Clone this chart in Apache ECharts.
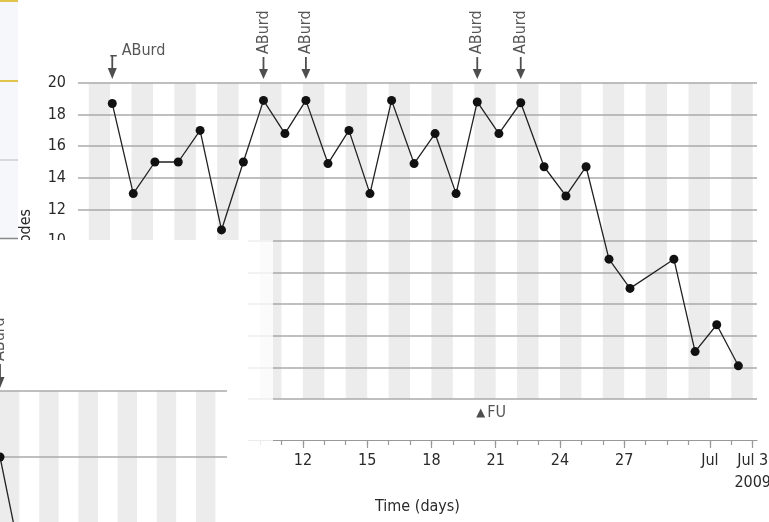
<!DOCTYPE html>
<html><head><meta charset="utf-8">
<script src="https://cdn.jsdelivr.net/npm/echarts@6/dist/echarts.min.js"></script>
<style>html,body{margin:0;padding:0;background:#fff}#c{width:769px;height:522px}</style>
</head><body><div id="c"></div>
<script>
// ---- data ----
const days = [3.10,4.08,5.09,6.18,7.20,8.20,9.22,10.16,11.16,12.14,13.17,14.15,15.13,16.14,17.19,18.17,19.15,20.14,21.15,22.17,23.26,24.28,25.22,26.29,27.27,29.32,30.31,31.32,32.33];
const episodes = [18.7,13,15,15,17,10.7,15,18.9,16.8,18.9,14.9,17,13,18.9,14.9,16.8,13,18.8,16.8,18.75,14.7,12.85,14.7,8.85,7.0,8.85,3.0,4.7,2.1];
const aburdDays = [3.10,10.16,12.14,20.14,22.17];
const aburdText = 'ABurd';
const fuDays = [20.3];
const fuText = 'FU';
const labelDays = [12,15,18,21,24,27,31,33];
const labelTexts = ['12','15','18','21','24','27','Jul','Jul 3\n2009'];
const minorTickDays = [2,3,4,5,6,7,8,9,10,11,12,13,14,15,16,17,18,19,20,21,22,23,24,25,26,27,28,29,30,31,32,33];
const yName = 'Episodes';
const xName = 'Time (days)';
const fragmentPointCount = 2; // the overlapping fragment only shows the first drop

const FONT = '"DejaVu Sans Condensed","Liberation Sans Narrow",sans-serif';
const TXT = '#2a2a2a';
const arrowPath = 'path://M3.6,0 L5.4,0 L5.4,12 L9,12 L4.5,22 L0,12 L3.6,12 Z';
const tArrowPath = 'path://M2.5,0 L9,0 L9,1.6 L5.4,1.6 L5.4,13 L9,13 L4.5,24 L0,13 L3.6,13 L3.6,1.6 L2.5,1.6 Z';

const xMin = 1.5, xMax = 33.2;
const stripes = [];
for (let d = 2; d < xMax; d += 2) stripes.push([{xAxis: d}, {xAxis: Math.min(d + 1, xMax)}]);

const pts = days.map((d, i) => [d, episodes[i]]);
const rotLabel = {show: true, formatter: aburdText, rotate: 90, position: [4.5, -3], align: 'left', verticalAlign: 'middle',
  color: TXT, fontSize: 16, fontFamily: FONT};
const aburdData = aburdDays.map((d, i) => i === 0 ? {
  value: [d, 20], symbol: tArrowPath, symbolSize: [9, 24], symbolOffset: [0, -16],
  label: {show: true, formatter: aburdText, position: [14, -4], align: 'left', verticalAlign: 'middle', color: TXT, fontSize: 16, fontFamily: FONT}
} : {value: [d, 20], label: rotLabel});

const chart = echarts.init(document.getElementById('c'), null, {renderer: 'canvas'});
chart.setOption({
  animation: false,
  backgroundColor: '#fff',
  grid: [
    {left: 78, right: 12, top: 83, bottom: 123, outerBoundsMode: 'none', containLabel: false},
    {left: 0, top: 391, width: 227, height: 330, outerBoundsMode: 'none', containLabel: false}
  ],
  xAxis: [
    {gridIndex: 0, type: 'value', min: xMin, max: xMax, position: 'bottom', offset: 41, z: 2,
     axisLine: {show: true, onZero: false, lineStyle: {color: '#999', width: 1.2}},
     axisTick: {show: true, customValues: labelDays, length: 8, lineStyle: {color: '#999', width: 1.2}},
     axisLabel: {customValues: labelDays, formatter: v => labelTexts[labelDays.indexOf(v)], color: TXT, fontSize: 16, fontFamily: FONT, margin: 10, lineHeight: 22},
     splitLine: {show: false},
     name: xName, nameLocation: 'middle', nameGap: 58, nameTextStyle: {color: TXT, fontSize: 16, fontFamily: FONT}},
    {gridIndex: 0, type: 'value', min: xMin, max: xMax, position: 'bottom', offset: 41, z: 2,
     axisLine: {show: false, onZero: false},
     axisTick: {show: true, customValues: minorTickDays, length: 5, lineStyle: {color: '#999', width: 1.2}},
     axisLabel: {show: false}, splitLine: {show: false}},
    {gridIndex: 1, type: 'value', min: 3.1, max: 14.68, interval: 1, z: 20,
     axisLine: {show: false, onZero: false}, axisTick: {show: false}, axisLabel: {show: false}, splitLine: {show: false},
     splitArea: {show: true, areaStyle: {color: ['#ececec', '#ffffff']}}}
  ],
  yAxis: [
    {gridIndex: 0, type: 'value', min: 0, max: 20, interval: 2, z: 2,
     axisLine: {show: false, onZero: false}, axisTick: {show: false},
     axisLabel: {color: TXT, fontSize: 16, fontFamily: FONT, margin: 12},
     splitLine: {lineStyle: {color: '#aaa', width: 1.5}},
     name: yName, nameLocation: 'middle', nameGap: 44, nameTextStyle: {color: TXT, fontSize: 16, fontFamily: FONT}},
    {gridIndex: 1, type: 'value', min: 2.7, max: 22.7, interval: 4, z: 21,
     axisLine: {show: false, onZero: false}, axisTick: {show: false}, axisLabel: {show: false},
     splitLine: {lineStyle: {color: '#aaa', width: 1.5}}}
  ],
  series: [
    {type: 'line', xAxisIndex: 0, yAxisIndex: 0, data: pts, silent: true, showSymbol: false, lineStyle: {opacity: 0}, z: 1,
     markArea: {silent: true, itemStyle: {color: '#ececec'}, data: stripes}},
    {type: 'line', xAxisIndex: 0, yAxisIndex: 0, data: pts, symbol: 'circle', symbolSize: 9, z: 3,
     lineStyle: {color: '#222', width: 1.3}, itemStyle: {color: '#111'}},
    {type: 'scatter', xAxisIndex: 0, yAxisIndex: 0, data: aburdData, clip: false, z: 4,
     symbol: arrowPath, symbolSize: [9, 22], symbolOffset: [0, -15], itemStyle: {color: '#222'}},
    {type: 'scatter', xAxisIndex: 0, yAxisIndex: 0, data: fuDays.map(d => [d, 0]), clip: false, z: 4,
     symbol: 'triangle', symbolSize: [9, 9], symbolOffset: [0, 14], itemStyle: {color: '#222'},
     label: {show: true, formatter: fuText, position: 'right', distance: 2, color: TXT, fontSize: 16, fontFamily: FONT}},
    // overlapping fragment (partial copy of the same chart)
    {type: 'line', xAxisIndex: 2, yAxisIndex: 1, data: pts.slice(0, fragmentPointCount), symbol: 'circle', symbolSize: 9, z: 22,
     lineStyle: {color: '#222', width: 1.3}, itemStyle: {color: '#111'}},
    {type: 'scatter', xAxisIndex: 2, yAxisIndex: 1, data: [[aburdDays[0], 22.7]], clip: false, z: 22,
     symbol: arrowPath, symbolSize: [9, 24], symbolOffset: [0, -15], itemStyle: {color: '#222'},
     label: rotLabel}
  ],
  graphic: {elements: [
    {type: 'rect', z: 10, silent: true, shape: {x: 0, y: 240, width: 248, height: 282}, style: {fill: '#fff'}},
    {type: 'rect', z: 10, silent: true, shape: {x: 248, y: 240, width: 25, height: 282}, style: {fill: 'rgba(255,255,255,0.8)'}},
    {type: 'rect', z: 10, silent: true, shape: {x: 0, y: 0, width: 18, height: 238}, style: {fill: '#f6f7fb'}},
    {type: 'line', z: 10, silent: true, shape: {x1: 0, y1: 1, x2: 18, y2: 1}, style: {stroke: '#e2c44a', lineWidth: 2}},
    {type: 'line', z: 10, silent: true, shape: {x1: 0, y1: 81, x2: 18, y2: 81}, style: {stroke: '#e2c44a', lineWidth: 2}},
    {type: 'line', z: 10, silent: true, shape: {x1: 0, y1: 160, x2: 18, y2: 160}, style: {stroke: '#bbb', lineWidth: 1}},
    {type: 'line', z: 10, silent: true, shape: {x1: 0, y1: 238.5, x2: 18, y2: 238.5}, style: {stroke: '#888', lineWidth: 1.5}}
  ]}
});
</script></body></html>
